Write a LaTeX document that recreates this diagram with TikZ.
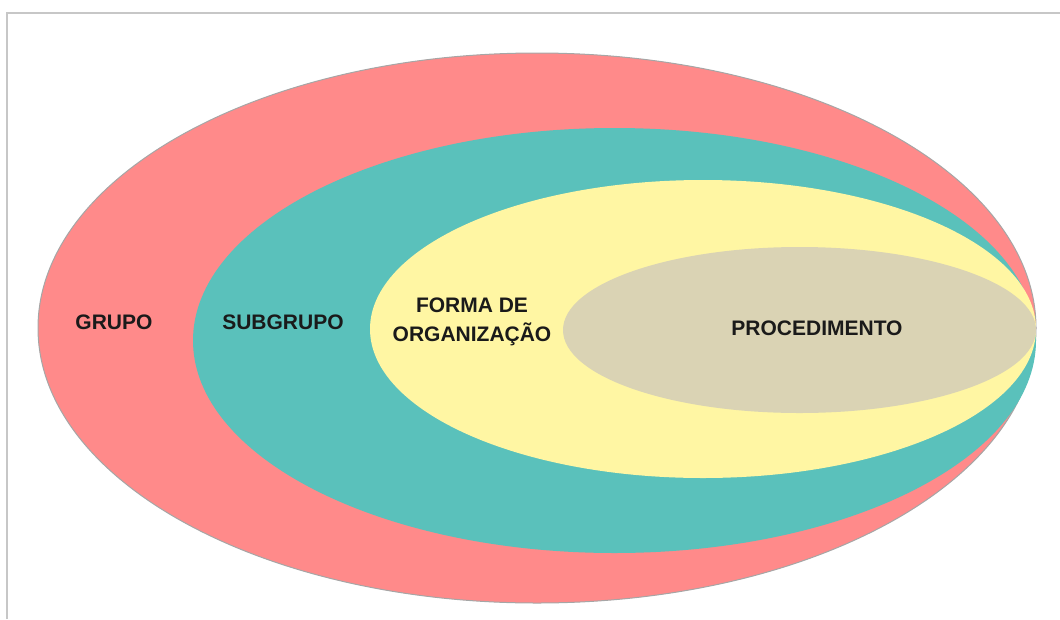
\documentclass[tikz,border=0pt]{standalone}
\usepackage{fontspec}
\setmainfont{Liberation Sans}
\usepackage{tikz}
\definecolor{grupored}{HTML}{FF8A8A}
\definecolor{subteal}{HTML}{5AC1BB}
\definecolor{formyellow}{HTML}{FFF6A3}
\definecolor{proctan}{HTML}{DAD3B4}
\definecolor{labelink}{HTML}{1A1A1A}
\tikzset{
    lbl/.style={
        text=labelink,
        font=\fontsize{21}{29}\selectfont\bfseries,
        align=center,
        inner sep=0pt
    }
}
\begin{document}
\begin{tikzpicture}[x=1pt,y=-1pt]
		\useasboundingbox (0,0) rectangle (1060,619);
		
		% Frame
		\draw [color=black!22, line width=1.5pt] (7,619) -- (7,13) -- (1060,13);
		
		% Grupo
		\filldraw [fill=grupored, draw=black!35, line width=1pt] (537,328) ellipse [x radius=499pt, y radius=275pt];
		
		% Subgrupo
		\fill [subteal] (614.5,340.5) ellipse [x radius=421.5pt, y radius=212.5pt];
		
		% Forma de organizacao
		\fill [formyellow] (703,329) ellipse [x radius=333pt, y radius=149pt];
		
		% Procedimento
		\fill [proctan] (799.5,330) ellipse [x radius=236.5pt, y radius=83pt];
		
		% Labels
		\node [lbl] (grupo) at (114,322) {GRUPO};
		\node [lbl] (subgrupo) at (283,322) {SUBGRUPO};
		\node [lbl] (forma) at (472,322) {FORMA DE\\ORGANIZAÇÃO};
		\node [lbl] (procedimento) at (817,328) {PROCEDIMENTO};
		
	\end{tikzpicture}
\end{document}
